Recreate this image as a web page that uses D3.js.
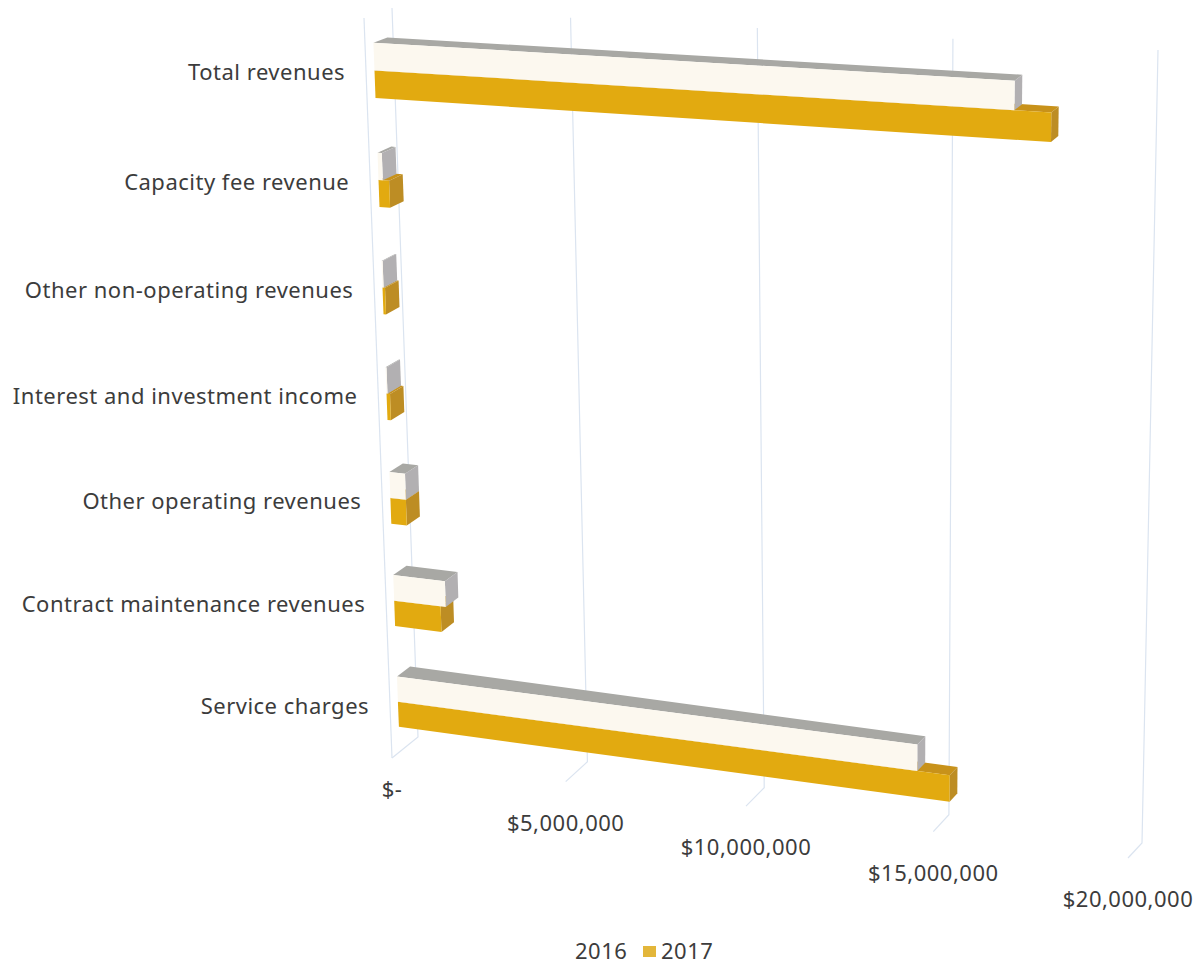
<!DOCTYPE html>
<html>
<head>
<meta charset="utf-8">
<script src="https://cdnjs.cloudflare.com/ajax/libs/d3/7.8.5/d3.min.js"></script>
<style>
html, body { margin: 0; background: #fff; }
svg { display: block; }
text { font-family: "Noto Sans", sans-serif; font-size: 22px; fill: #3c3c3c; letter-spacing: 0.5px; }
</style>
</head>
<body>
<svg width="1196" height="964"></svg>
<script>
var categories = ["Total revenues", "Capacity fee revenue", "Other non-operating revenues",
    "Interest and investment income", "Other operating revenues",
    "Contract maintenance revenues", "Service charges"];
var seriesNames = ["2016", "2017"];
var values2016 = [16800000, 120000, 30000, 30000, 450000, 1500000, 14450000];
var values2017 = [17700000, 300000, 70000, 100000, 450000, 1350000, 15300000];
var valueTicks = [0, 5000000, 10000000, 15000000, 20000000];
var tickLabels = ["$-", "$5,000,000", "$10,000,000", "$15,000,000", "$20,000,000"];

var svg = d3.select("svg");

// corners of the 3d box on screen: top-left, top-right, bottom-right, bottom-left
var frontPlane = [[364, 18], [1144, 62], [1128, 858], [392, 758]];
var backPlane = [[392, 8], [1158, 50], [1142, 843], [418, 737]];

// bars sit between these two depths (0 = front of the box, 1 = back wall)
var barNear = 0.3, barFar = 0.8;

var x = d3.scaleLinear().domain([0, 20000000]).range([0, 1]);
var y = d3.scaleBand().domain(categories).range([0, 1]).paddingInner(0.5).paddingOuter(0.25);
var ySeries = d3.scaleBand().domain(seriesNames).range([0, y.bandwidth()]);

// unit square -> quad
function quadMap(q) {
    var dx1 = q[1][0] - q[2][0], dx2 = q[3][0] - q[2][0], sx = q[0][0] - q[1][0] + q[2][0] - q[3][0];
    var dy1 = q[1][1] - q[2][1], dy2 = q[3][1] - q[2][1], sy = q[0][1] - q[1][1] + q[2][1] - q[3][1];
    var det = dx1 * dy2 - dx2 * dy1;
    var g = (sx * dy2 - dx2 * sy) / det;
    var h = (dx1 * sy - sx * dy1) / det;
    var a = q[1][0] - q[0][0] + g * q[1][0], b = q[3][0] - q[0][0] + h * q[3][0], c = q[0][0];
    var d = q[1][1] - q[0][1] + g * q[1][1], e = q[3][1] - q[0][1] + h * q[3][1], f = q[0][1];
    return function(u, v) {
        var w = g * u + h * v + 1;
        return [(a * u + b * v + c) / w, (d * u + e * v + f) / w];
    };
}

var front = quadMap(frontPlane), back = quadMap(backPlane);

function project(u, v, z) {
    var p = front(u, v), q = back(u, v);
    return [p[0] + (q[0] - p[0]) * z, p[1] + (q[1] - p[1]) * z];
}

function poly(points) {
    return "M" + points.map(function(p) { return p[0].toFixed(1) + "," + p[1].toFixed(1); }).join("L") + "Z";
}

//////////// GRID ////////////

var grid = svg.append("g").attr("class", "grid")
    .attr("fill", "none").attr("stroke", "#dbe4f0").attr("stroke-width", 1.2);

// back wall verticals and floor lines
grid.selectAll("path.tick")
    .data(valueTicks)
    .enter().append("path")
    .attr("class", "tick")
    .attr("d", function(d) {
        var u = x(d);
        return "M" + project(u, 0, 1) + "L" + project(u, 1, 1) + "L" + project(u, 1, 0);
    });

// front edge of the side wall
grid.append("path")
    .attr("d", "M" + project(0, 0, 0) + "L" + project(0, 1, 0));

//////////// BARS ////////////

var palette = {
    "2016": { front: "#fcf8ef", top: "#a8a8a4", side: "#b2b0b2" },
    "2017": { front: "#e2aa10", top: "#c8921a", side: "#bd8d24" }
};

function barFaces(value, cat, series) {
    var u = x(value);
    var v0 = y(cat) + ySeries(series), v1 = v0 + ySeries.bandwidth();
    var a = barNear, b = barFar;
    return [
        { face: "top", d: poly([project(0, v0, a), project(u, v0, a), project(u, v0, b), project(0, v0, b)]) },
        { face: "side", d: poly([project(u, v0, a), project(u, v0, b), project(u, v1, b), project(u, v1, a)]) },
        { face: "front", d: poly([project(0, v0, a), project(u, v0, a), project(u, v1, a), project(0, v1, a)]) }
    ];
}

var rows = svg.append("g").attr("class", "bars")
    .selectAll("g")
    .data(categories)
    .enter().append("g");

// 2017 first: the 2016 box rests on top of it
[["2017", values2017], ["2016", values2016]].forEach(function(s) {
    rows.append("g")
        .selectAll("path")
        .data(function(cat) { return barFaces(s[1][categories.indexOf(cat)], cat, s[0]); })
        .enter().append("path")
        .attr("d", function(d) { return d.d; })
        .attr("fill", function(d) { return palette[s[0]][d.face]; });
});

//////////// LABELS ////////////

svg.append("g").selectAll("text")
    .data(categories)
    .enter().append("text")
    .attr("text-anchor", "end")
    .attr("x", function(d) { return project(0, y(d) + y.bandwidth() / 2, 0)[0] - 21; })
    .attr("y", function(d) { return project(0, y(d) + y.bandwidth() / 2, 0)[1] + 6; })
    .text(function(d) { return d; });

// the "$-" label hangs closer to the floor than the longer ones
svg.append("g").selectAll("text")
    .data(valueTicks)
    .enter().append("text")
    .attr("text-anchor", "middle")
    .attr("x", function(d) { return project(x(d), 1, 0)[0]; })
    .attr("y", function(d) { return project(x(d), 1, 0)[1] + (d === 0 ? 39 : 49); })
    .text(function(d, i) { return tickLabels[i]; });

//////////// LEGEND ////////////

var legend = svg.append("g");
legend.append("text").attr("x", 575).attr("y", 959).text(seriesNames[0]);
legend.append("rect").attr("x", 643).attr("y", 946).attr("width", 13).attr("height", 11).attr("fill", "#e3b63a");
legend.append("text").attr("x", 661).attr("y", 959).text(seriesNames[1]);
</script>
</body>
</html>
